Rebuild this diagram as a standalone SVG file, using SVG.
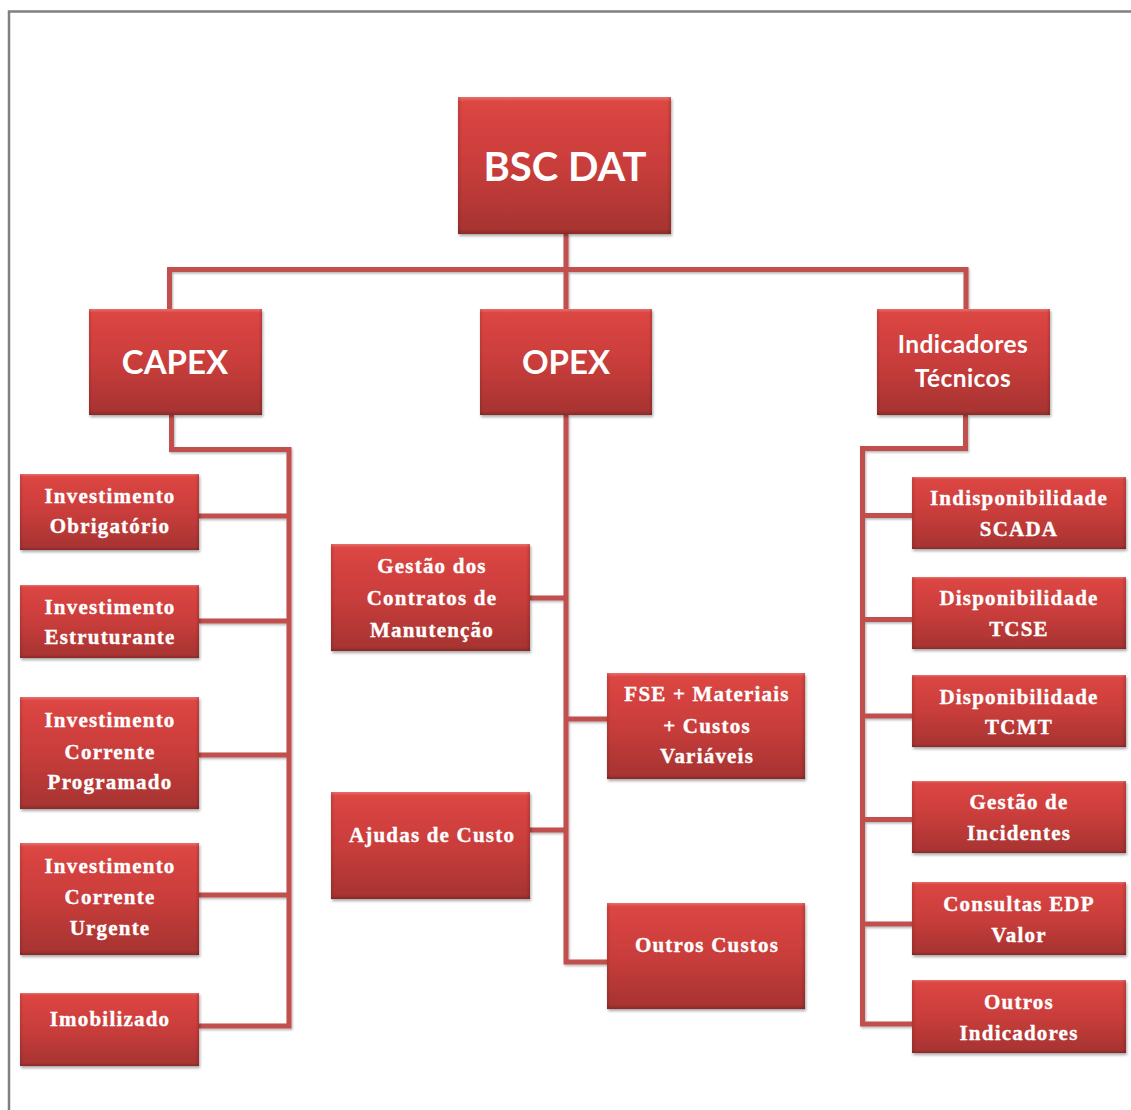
<svg xmlns="http://www.w3.org/2000/svg" width="1131" height="1110" viewBox="0 0 1131 1110">
  <defs>
    <linearGradient id="boxFill" x1="0" y1="0" x2="0" y2="1">
      <stop offset="0" stop-color="#e8706c"/>
      <stop offset="0.035" stop-color="#dc4643"/>
      <stop offset="0.5" stop-color="#c93d3b"/>
      <stop offset="0.96" stop-color="#a83432"/>
      <stop offset="1" stop-color="#8a2a28"/>
    </linearGradient>
    <linearGradient id="sideShade" x1="0" y1="0" x2="1" y2="0">
      <stop offset="0" stop-color="#000" stop-opacity="0.12"/>
      <stop offset="0.02" stop-color="#000" stop-opacity="0"/>
      <stop offset="0.98" stop-color="#000" stop-opacity="0"/>
      <stop offset="1" stop-color="#000" stop-opacity="0.15"/>
    </linearGradient>
    <filter id="boxShadow" x="-10%" y="-10%" width="120%" height="125%">
      <feDropShadow dx="1" dy="2" stdDeviation="1.6" flood-color="#000" flood-opacity="0.35"/>
    </filter>
    <filter id="lineShadow" x="-5%" y="-5%" width="110%" height="110%">
      <feDropShadow dx="1" dy="1.5" stdDeviation="0.8" flood-color="#000" flood-opacity="0.3"/>
    </filter>
  </defs>
  <style>
    .box { fill: url(#boxFill); filter: url(#boxShadow); }
    .edge { fill: url(#sideShade); }
    .link { fill: none; stroke: #c0504d; stroke-width: 5; stroke-linejoin: miter; }
    .head { font-family: Lato, "Open Sans", "Liberation Sans", sans-serif; font-weight: bold; fill: #ffffff; text-anchor: middle; }
    .leaf { font-family: "Liberation Serif", "Times New Roman", serif; font-weight: bold; font-size: 21px; letter-spacing: 1.2px; fill: #ffffff; stroke: #ffffff; stroke-width: 0.35px; text-anchor: middle; }
  </style>

  <rect width="1131" height="1110" fill="#ffffff"/>
  <!-- page frame -->
  <path d="M9 1110 V11.5 H1131" fill="none" stroke="#808080" stroke-width="2.5"/>

  <!-- connectors -->
  <g id="connectors" filter="url(#lineShadow)">
    <path class="link" d="M566 234 V309 M169.5 309 V269.5 H966 V309"/>
    <path class="link" d="M171.5 415 V449.5 H289 V1026 H199 M199 516 H289 M199 621 H289 M199 755 H289 M199 895 H289"/>
    <path class="link" d="M566 415 V962 H607 M530 598 H566 M566 719 H607 M530 830 H566"/>
    <path class="link" d="M965.5 415 V448.5 H862.5 V1024 H912 M862.5 515.5 H912 M862.5 619.5 H912 M862.5 716 H912 M862.5 819.5 H912 M862.5 924 H912"/>
  </g>

  <!-- root -->
  <g id="bsc-dat">
    <rect class="box" x="458" y="97" width="213" height="137"/>
    <rect class="edge" x="458" y="97" width="213" height="137"/>
    <text class="head" x="565" y="181" font-size="40">BSC DAT</text>
  </g>

  <!-- second level -->
  <g id="capex">
    <rect class="box" x="89" y="309" width="173" height="106"/>
    <rect class="edge" x="89" y="309" width="173" height="106"/>
    <text class="head" x="175" y="374" font-size="33">CAPEX</text>
  </g>
  <g id="opex">
    <rect class="box" x="480" y="309" width="172" height="106"/>
    <rect class="edge" x="480" y="309" width="172" height="106"/>
    <text class="head" x="566" y="374" font-size="33">OPEX</text>
  </g>
  <g id="indicadores-tecnicos">
    <rect class="box" x="877" y="309" width="173" height="106"/>
    <rect class="edge" x="877" y="309" width="173" height="106"/>
    <text class="head" font-size="24.5" letter-spacing="0.4"><tspan x="963" y="353">Indicadores</tspan><tspan x="963" y="387">Técnicos</tspan></text>
  </g>

  <!-- CAPEX children -->
  <g id="investimento-obrigatorio">
    <rect class="box" x="20" y="474" width="179" height="76"/>
    <rect class="edge" x="20" y="474" width="179" height="76"/>
    <text class="leaf"><tspan x="110" y="503">Investimento</tspan><tspan x="110" y="533">Obrigatório</tspan></text>
  </g>
  <g id="investimento-estruturante">
    <rect class="box" x="20" y="585" width="179" height="73"/>
    <rect class="edge" x="20" y="585" width="179" height="73"/>
    <text class="leaf"><tspan x="110" y="614">Investimento</tspan><tspan x="110" y="644">Estruturante</tspan></text>
  </g>
  <g id="investimento-corrente-programado">
    <rect class="box" x="20" y="697" width="179" height="112"/>
    <rect class="edge" x="20" y="697" width="179" height="112"/>
    <text class="leaf"><tspan x="110" y="727">Investimento</tspan><tspan x="110" y="759">Corrente</tspan><tspan x="110" y="789">Programado</tspan></text>
  </g>
  <g id="investimento-corrente-urgente">
    <rect class="box" x="20" y="843" width="179" height="112"/>
    <rect class="edge" x="20" y="843" width="179" height="112"/>
    <text class="leaf"><tspan x="110" y="873">Investimento</tspan><tspan x="110" y="904">Corrente</tspan><tspan x="110" y="935">Urgente</tspan></text>
  </g>
  <g id="imobilizado">
    <rect class="box" x="20" y="993" width="179" height="73"/>
    <rect class="edge" x="20" y="993" width="179" height="73"/>
    <text class="leaf" x="110" y="1026">Imobilizado</text>
  </g>

  <!-- OPEX children -->
  <g id="gestao-contratos">
    <rect class="box" x="331" y="544" width="199" height="107"/>
    <rect class="edge" x="331" y="544" width="199" height="107"/>
    <text class="leaf"><tspan x="432" y="573">Gestão dos</tspan><tspan x="432" y="605">Contratos de</tspan><tspan x="432" y="637">Manutenção</tspan></text>
  </g>
  <g id="fse-materiais">
    <rect class="box" x="607" y="673" width="198" height="106"/>
    <rect class="edge" x="607" y="673" width="198" height="106"/>
    <text class="leaf"><tspan x="707" y="701">FSE + Materiais</tspan><tspan x="707" y="733">+ Custos</tspan><tspan x="707" y="763">Variáveis</tspan></text>
  </g>
  <g id="ajudas-de-custo">
    <rect class="box" x="331" y="792" width="199" height="107"/>
    <rect class="edge" x="331" y="792" width="199" height="107"/>
    <text class="leaf" x="432" y="842">Ajudas de Custo</text>
  </g>
  <g id="outros-custos">
    <rect class="box" x="607" y="903" width="198" height="106"/>
    <rect class="edge" x="607" y="903" width="198" height="106"/>
    <text class="leaf" x="707" y="952">Outros Custos</text>
  </g>

  <!-- Indicadores Técnicos children -->
  <g id="indisponibilidade-scada">
    <rect class="box" x="912" y="477" width="214" height="72"/>
    <rect class="edge" x="912" y="477" width="214" height="72"/>
    <text class="leaf"><tspan x="1019" y="505">Indisponibilidade</tspan><tspan x="1019" y="536">SCADA</tspan></text>
  </g>
  <g id="disponibilidade-tcse">
    <rect class="box" x="912" y="577" width="214" height="72"/>
    <rect class="edge" x="912" y="577" width="214" height="72"/>
    <text class="leaf"><tspan x="1019" y="605">Disponibilidade</tspan><tspan x="1019" y="636">TCSE</tspan></text>
  </g>
  <g id="disponibilidade-tcmt">
    <rect class="box" x="912" y="675" width="214" height="72"/>
    <rect class="edge" x="912" y="675" width="214" height="72"/>
    <text class="leaf"><tspan x="1019" y="704">Disponibilidade</tspan><tspan x="1019" y="734">TCMT</tspan></text>
  </g>
  <g id="gestao-incidentes">
    <rect class="box" x="912" y="781" width="214" height="72"/>
    <rect class="edge" x="912" y="781" width="214" height="72"/>
    <text class="leaf"><tspan x="1019" y="809">Gestão de</tspan><tspan x="1019" y="840">Incidentes</tspan></text>
  </g>
  <g id="consultas-edp-valor">
    <rect class="box" x="912" y="882" width="214" height="73"/>
    <rect class="edge" x="912" y="882" width="214" height="73"/>
    <text class="leaf"><tspan x="1019" y="911">Consultas EDP</tspan><tspan x="1019" y="942">Valor</tspan></text>
  </g>
  <g id="outros-indicadores">
    <rect class="box" x="912" y="980" width="214" height="73"/>
    <rect class="edge" x="912" y="980" width="214" height="73"/>
    <text class="leaf"><tspan x="1019" y="1009">Outros</tspan><tspan x="1019" y="1040">Indicadores</tspan></text>
  </g>
</svg>
